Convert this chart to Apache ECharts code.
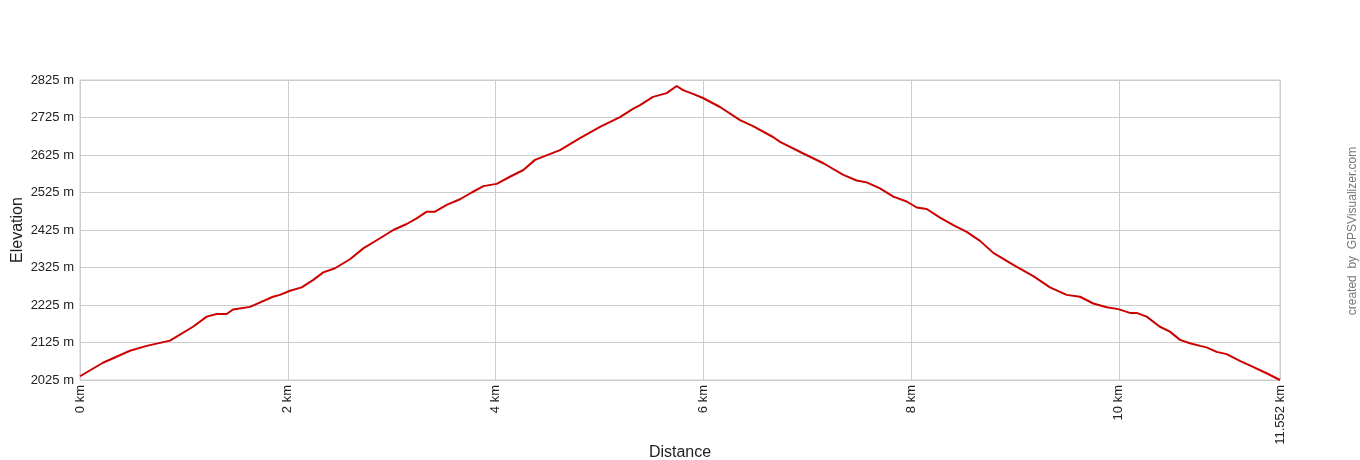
<!DOCTYPE html>
<html>
<head>
<meta charset="utf-8">
<script src="https://cdn.jsdelivr.net/npm/echarts@6/dist/echarts.min.js"></script>
<style>
html,body{margin:0;padding:0;background:#fff;}
#chart{width:1360px;height:460px;}
</style>
</head>
<body>
<div id="chart"></div>
<script>
// Distance (km) along track
const distanceKm = [0, 0.221, 0.481, 0.642, 0.866, 1.088, 1.220, 1.316, 1.412, 1.473, 1.637, 1.858, 1.925,
  2.022, 2.134, 2.246, 2.342, 2.455, 2.599, 2.727, 2.888, 3.016, 3.145, 3.241, 3.338, 3.418, 3.530, 3.658,
  3.771, 3.883, 4.011, 4.139, 4.268, 4.380, 4.621, 4.813, 5.006, 5.198, 5.323, 5.391, 5.516, 5.648, 5.744,
  5.805, 5.901, 5.997, 6.161, 6.354, 6.479, 6.671, 6.739, 6.963, 7.156, 7.348, 7.477, 7.573, 7.701, 7.830,
  7.958, 8.055, 8.151, 8.279, 8.407, 8.536, 8.664, 8.792, 8.985, 9.177, 9.338, 9.498, 9.627, 9.755, 9.884,
  9.995, 10.108, 10.172, 10.268, 10.396, 10.493, 10.589, 10.685, 10.782, 10.846, 10.942, 11.038, 11.166,
  11.292, 11.423, 11.552];
// Elevation (m)
const elevationM = [2035, 2071, 2103, 2116, 2130, 2167, 2194, 2201, 2201, 2213, 2220, 2247, 2252,
  2263, 2272, 2292, 2312, 2323, 2347, 2376, 2403, 2425, 2441, 2456, 2474, 2474, 2492, 2507,
  2525, 2542, 2548, 2567, 2585, 2612, 2638, 2670, 2700, 2726, 2748, 2758, 2780, 2790, 2809,
  2798, 2788, 2777, 2753, 2718, 2702, 2673, 2660, 2629, 2603, 2572, 2557, 2552, 2536, 2514,
  2501, 2485, 2481, 2458, 2438, 2420, 2396, 2364, 2332, 2302, 2272, 2252, 2247, 2229, 2219,
  2214, 2204, 2204, 2194, 2167, 2154, 2132, 2123, 2116, 2112, 2100, 2094, 2076,
  2060, 2043, 2025];
// Axis ranges / tick labels
const yMin = 2025, yMax = 2825, yStep = 100;
const xMin = 0, xMax = 11.552, xStep = 2;

const FONT = '"Liberation Sans", Arial, sans-serif';
const chart = echarts.init(document.getElementById('chart'), null, {renderer: 'canvas'});
const seriesData = distanceKm.map((d, i) => [d, elevationM[i] - yMin]);

chart.setOption({
  animation: false,
  backgroundColor: '#fff',
  grid: {left: 80, right: 80, top: 80, bottom: 80, containLabel: false, outerBoundsMode: 'none',
    show: true, borderColor: '#cccccc', borderWidth: 1},
  xAxis: {
    type: 'value', min: xMin, max: xMax, interval: xStep,
    name: 'Distance', nameLocation: 'middle', nameGap: 65, nameMoveOverlap: false,
    nameTextStyle: {fontFamily: FONT, fontSize: 16, color: '#222'},
    axisLine: {show: false}, axisTick: {show: false},
    axisLabel: {rotate: 90, margin: 5, fontFamily: FONT, fontSize: 13, color: '#222',
      formatter: v => v + ' km'},
    splitLine: {show: true, lineStyle: {color: '#cccccc', width: 1}}
  },
  yAxis: {
    type: 'value', min: 0, max: yMax - yMin, interval: yStep,
    name: 'Elevation', nameLocation: 'middle', nameGap: 54, nameRotate: 90, nameMoveOverlap: false,
    nameTextStyle: {fontFamily: FONT, fontSize: 16, color: '#222'},
    axisLine: {show: false}, axisTick: {show: false},
    axisLabel: {margin: 6, fontFamily: FONT, fontSize: 13, color: '#222',
      formatter: v => (v + yMin) + ' m'},
    splitLine: {show: true, lineStyle: {color: '#cccccc', width: 1}}
  },
  series: [{
    type: 'line', data: seriesData, showSymbol: false, symbol: 'none',
    lineStyle: {color: '#cc0000', width: 2}, silent: true
  }],
  graphic: [{
    type: 'text', x: 1353, y: 231, rotation: Math.PI / 2,
    style: {text: 'created  by  GPSVisualizer.com', fontFamily: FONT, fontSize: 12, fill: '#777',
      align: 'center', verticalAlign: 'middle'}
  }]
});
</script>
</body>
</html>
